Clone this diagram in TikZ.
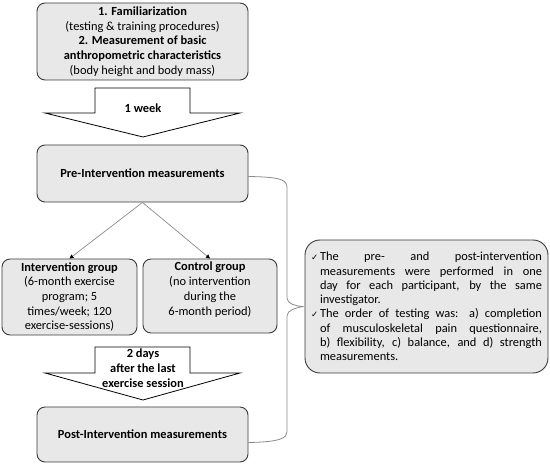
\documentclass[tikz,border=0pt]{standalone}
\usepackage{fontspec}
\setmainfont{Carlito}
\newfontfamily\checkfont{DejaVu Sans}
\usetikzlibrary{arrows.meta}
\definecolor{boxgray}{HTML}{E8E8E8}
\definecolor{edgegray}{HTML}{3A3A3A}
\definecolor{linegray}{HTML}{8A8A8A}
\newcommand{\tick}{\makebox[9pt][l]{\checkfont\fontsize{8.5}{10}\selectfont ✓}}

\begin{document}
\begin{tikzpicture}[x=1pt, y=-1pt,
	step box/.style={draw=edgegray, line width=0.9pt, fill=boxgray, rounded corners=8pt, align=center, inner sep=2pt, font=\fontsize{12.4}{14.7}\selectfont},
	block arrow/.style={draw=black, line width=0.8pt, fill=white},
	flow line/.style={draw=linegray, line width=0.7pt, -{Triangle[length=4pt, width=4pt, black]}},
	bracket/.style={draw=linegray, line width=0.8pt}]
	\useasboundingbox (0,0) rectangle (550,468);
	
	%study steps
	\node[step box, minimum width=211pt, minimum height=77pt] (famil) at (142.5,41.5) {\textbf{1. Familiarization}\\(testing \& training procedures)\\\textbf{2. Measurement of basic}\\\textbf{anthropometric characteristics}\\(body height and body mass)};
	\node[step box, minimum width=211pt, minimum height=57pt] (pre) at (142.5,173.5) {\textbf{Pre-Intervention measurements}};
	\node[step box, minimum width=135pt, minimum height=76pt] (interv) at (69.5,297) {\textbf{Intervention group}\\(6-month exercise\\program; 5\\times/week; 120\\exercise-sessions)};
	\node[step box, minimum width=134pt, minimum height=74pt] (control) at (210,296) {\textbf{Control group}\\(no intervention\\during the\\6-month period)\\\mbox{}};
	\node[step box, minimum width=211pt, minimum height=55pt] (post) at (142.5,434.5) {\textbf{Post-Intervention measurements}};
	
	%wide arrows between steps
	\draw[block arrow] (95,88) -- (190,88) -- (190,113) -- (240,113) -- (143,137) -- (45,113) -- (95,113) -- cycle;
	\node[font=\fontsize{12.4}{14.7}\selectfont\bfseries] (week) at (143,108) {1 week};
	\draw[block arrow] (95,347) -- (190,347) -- (190,373) -- (240,373) -- (143,400) -- (45,373) -- (95,373) -- cycle;
	\node[align=center, font=\fontsize{12.4}{14.7}\selectfont\bfseries] (days) at (143,368) {2 days\\after the last\\exercise session};
	
	%split into groups
	\draw[flow line] (pre.south) -- (interv.north);
	\draw[flow line] (pre.south) -- (control.north);
	
	%notes on the measurements
	\node[step box, rounded corners=15pt, minimum width=243pt, minimum height=133pt, align=justify, text width=231pt, font=\fontsize{12.4}{14.3}\selectfont] (note) at (426.5,306.5) {%
		\hangindent=9pt\hangafter=1\noindent\tick The pre- and post-intervention\linebreak measurements were performed in one\linebreak day for each participant, by the same\linebreak investigator.\par
		\hangindent=9pt\hangafter=1\noindent\tick The order of testing was: a) completion\linebreak of musculoskeletal pain questionnaire,\linebreak b) flexibility, c) balance, and d) strength\linebreak measurements.\par};
	
	%bracket from pre to post
	\coordinate (tip) at ([xshift=-2pt]note.west);
	\draw[bracket] ([yshift=-3pt]pre.east) .. controls (282,177) and (287,180) .. (287,188) -- (287,298) .. controls (287,304) and (296,306) .. (tip) .. controls (296,308) and (287,310) .. (287,316) -- (287,432) .. controls (287,438) and (280,442) .. ([yshift=-8pt]post.east);
	
\end{tikzpicture}
\end{document}
